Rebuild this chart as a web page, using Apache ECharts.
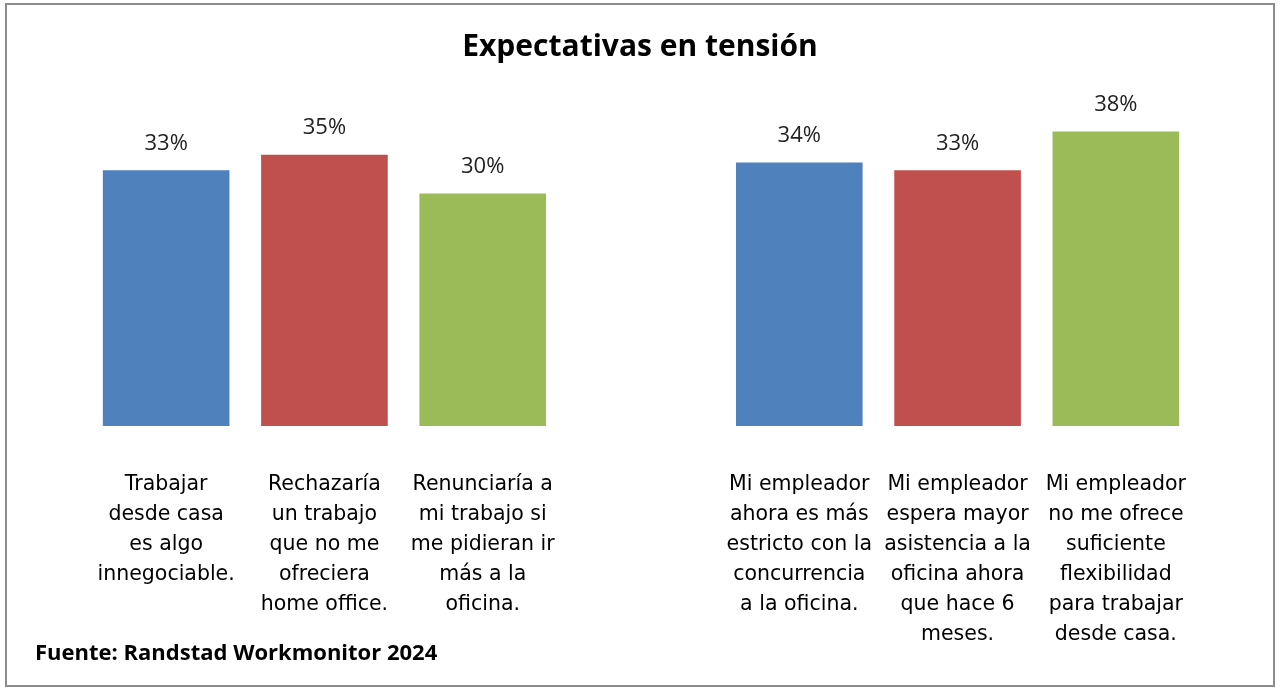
<!DOCTYPE html>
<html>
<head>
<meta charset="utf-8">
<title>Expectativas en tensión</title>
<script src="https://cdn.jsdelivr.net/npm/echarts@6/dist/echarts.min.js"></script>
<style>
  html, body { margin: 0; padding: 0; background: #fff; }
  #main { width: 1280px; height: 694px; }
</style>
</head>
<body>
<div id="main"></div>
<script>
// categorías (la 4ª vacía separa los dos grupos)
var categories = [
  'Trabajar\ndesde casa\nes algo\ninnegociable.',
  'Rechazaría\nun trabajo\nque no me\nofreciera\nhome office.',
  'Renunciaría a\nmi trabajo si\nme pidieran ir\nmás a la\noficina.',
  '',
  'Mi empleador\nahora es más\nestricto con la\nconcurrencia\na la oficina.',
  'Mi empleador\nespera mayor\nasistencia a la\noficina ahora\nque hace 6\nmeses.',
  'Mi empleador\nno me ofrece\nsuficiente\nflexibilidad\npara trabajar\ndesde casa.'
];
var values = [33, 35, 30, '-', 34, 33, 38];
var barColors = ['#4F81BD', '#C0504D', '#9BBB59', '#ffffff', '#4F81BD', '#C0504D', '#9BBB59'];

var chart = echarts.init(document.getElementById('main'));

var seriesData = values.map(function (v, i) {
  return { value: v, itemStyle: { color: barColors[i] } };
});

var option = {
  backgroundColor: '#fff',
  animation: false,
  title: {
    text: 'Expectativas en tensión',
    left: 'center',
    top: 27,
    textStyle: { fontFamily: 'Open Sans', fontWeight: 'bold', fontSize: 30, color: '#000' }
  },
  graphic: [
    {
      type: 'rect',
      shape: { x: 6, y: 4, width: 1268, height: 682 },
      style: { fill: 'none', stroke: '#8c8c8c', lineWidth: 2 },
      silent: true
    },
    {
      type: 'text',
      left: 35,
      top: 643,
      style: {
        text: 'Fuente: Randstad Workmonitor 2024',
        fontFamily: 'Open Sans', fontWeight: 'bold', fontSize: 22, fill: '#000'
      }
    }
  ],
  grid: { left: 87, right: 85, top: 116, bottom: 268 },
  xAxis: {
    type: 'category',
    data: categories,
    axisLine: { show: false },
    axisTick: { show: false },
    axisLabel: {
      interval: 0,
      margin: 44,
      fontFamily: 'DejaVu Sans',
      fontSize: 20.5,
      lineHeight: 30,
      color: '#000',
      align: 'center',
      verticalAlign: 'top'
    }
  },
  yAxis: {
    type: 'value',
    min: 0,
    max: 40,
    show: false,
    splitLine: { show: false }
  },
  series: [
    {
      type: 'bar',
      data: seriesData,
      barWidth: '80%',
      label: {
        show: true,
        position: 'top',
        distance: 16,
        formatter: '{c}%',
        fontFamily: 'Open Sans',
        fontSize: 22,
        color: '#222'
      }
    }
  ]
};

chart.setOption(option);
</script>
</body>
</html>
